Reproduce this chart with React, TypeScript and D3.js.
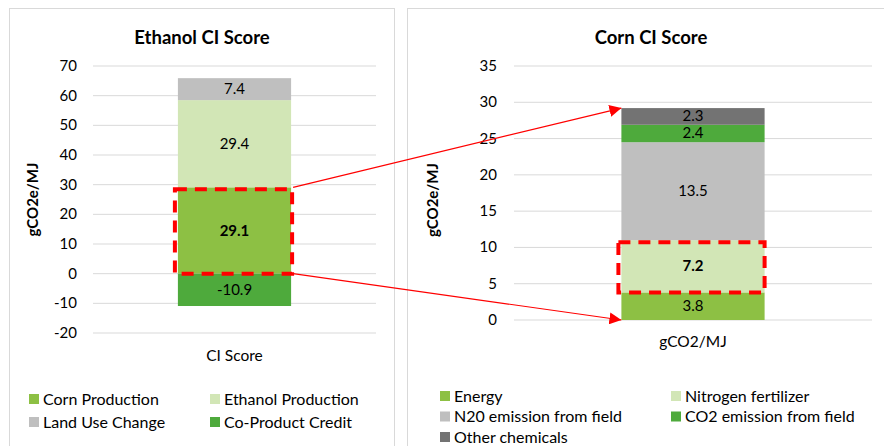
import React from "react";
import * as d3 from "d3";

const ethanolSeries = ["Corn Production", "Ethanol Production", "Land Use Change", "Co-Product Credit"];
const ethanolValues = [29.1, 29.4, 7.4, -10.9];
const ethanolColors = ["#8DC044", "#D2E6B6", "#BFBFBF", "#4EAA3C"];
const ethanolTicks = [70, 60, 50, 40, 30, 20, 10, 0, -10, -20];
const ethanolCategory = "CI Score";

const cornSeries = ["Energy", "Nitrogen fertilizer", "N20 emission from field", "CO2 emission from field", "Other chemicals"];
const cornValues = [3.8, 7.2, 13.5, 2.4, 2.3];
const cornColors = ["#8DC044", "#D2E6B6", "#BFBFBF", "#4EAA3C", "#737373"];
const cornTicks = [35, 30, 25, 20, 15, 10, 5, 0];
const cornCategory = "gCO2/MJ";

const FONT = "Lato, 'Open Sans', sans-serif";

type Seg = { name: string; v: number; y0: number; y1: number; color: string };

function stackSegs(names: string[], vals: number[], colors: string[]): Seg[] {
  let pos = 0;
  let neg = 0;
  return vals.map((v, i) => {
    let y0, y1;
    if (v >= 0) { y0 = pos; y1 = pos + v; pos = y1; }
    else { y0 = neg; y1 = neg + v; neg = y1; }
    return { name: names[i], v, y0, y1, color: colors[i] };
  });
}

export default function App() {
  // Left chart
  const yL = d3.scaleLinear().domain([-20, 70]).range([333, 66]);
  const xL = d3.scaleBand().domain([ethanolCategory]).range([93, 376]).paddingInner(0.6).paddingOuter(0.295);
  const segsL = stackSegs(ethanolSeries, ethanolValues, ethanolColors);

  // Right chart
  const yR = d3.scaleLinear().domain([0, 35]).range([320, 66]);
  const xR = d3.scaleBand().domain([cornCategory]).range([514, 872]).paddingInner(0.6).paddingOuter(0.298);
  const segsR = stackSegs(cornSeries, cornValues, cornColors);

  const bxL = xL(ethanolCategory)!;
  const bwL = xL.bandwidth();
  const bxR = xR(cornCategory)!;
  const bwR = xR.bandwidth();

  const hlL = segsL[0];
  const hlR = segsR[1];

  const leftRectTop = yL(hlL.y1);
  const leftRectBot = yL(0);
  const rightTop = yR(d3.sum(cornValues));
  const rightBot = yR(0);

  return (
    <svg width={884} height={446} style={{ position: "absolute", left: 0, top: 0, background: "#fff" }} fontFamily={FONT}>
      <defs>
        <marker id="arr" viewBox="0 0 10 10" refX="10" refY="5" markerWidth="12" markerHeight="12" markerUnits="userSpaceOnUse" orient="auto">
          <path d="M0,0 L10,5 L0,10 z" fill="#FF0000" />
        </marker>
      </defs>
      <rect x={0} y={0} width={884} height={446} fill="#fff" />
      {/* panel borders */}
      <rect x={9.5} y={8.5} width={385} height={450} fill="none" stroke="#D9D9D9" />
      <rect x={407.5} y={8.5} width={490} height={450} fill="none" stroke="#D9D9D9" />

      {/* LEFT CHART */}
      <text x={202} y={44} textAnchor="middle" fontWeight="bold" fontSize={18.5} fill="#000">Ethanol CI Score</text>
      {ethanolTicks.map((t) => (
        <g key={t}>
          <line x1={93} x2={376} y1={yL(t)} y2={yL(t)} stroke="#D9D9D9" strokeWidth={1} />
          <text x={77} y={yL(t) + 5} textAnchor="end" fontSize={15} fill="#000">{t}</text>
        </g>
      ))}
      <text transform={`translate(38,${(yL(70) + yL(-20)) / 2}) rotate(-90)`} textAnchor="middle" fontWeight="bold" fontSize={15} fill="#000">gCO2e/MJ</text>
      {segsL.map((s) => (
        <g key={s.name}>
          <rect x={bxL} width={bwL} y={yL(Math.max(s.y0, s.y1))} height={Math.abs(yL(s.y0) - yL(s.y1))} fill={s.color} />
          <text x={bxL + bwL / 2} y={(yL(s.y0) + yL(s.y1)) / 2 + 5} textAnchor="middle" fontSize={15}
            fontWeight={s === hlL ? "bold" : "normal"} fill="#000">{s.v.toFixed(1)}</text>
        </g>
      ))}
      <text x={bxL + bwL / 2} y={361} textAnchor="middle" fontSize={15.5} fill="#000">{ethanolCategory}</text>
      <rect x={bxL - 3} y={leftRectTop + 2} width={bwL + 4} height={leftRectBot - leftRectTop - 2} fill="none" stroke="#FF0000" strokeWidth={4} strokeDasharray="12 8" />
      {ethanolSeries.map((s, i) => {
        const col = i % 2;
        const row = Math.floor(i / 2);
        const x = col === 0 ? 29 : 210;
        const y = 399 + row * 23;
        return (
          <g key={s}>
            <rect x={x} y={y - 5} width={10} height={10} fill={ethanolColors[i]} />
            <text x={x + 14} y={y + 5.5} fontSize={16} fill="#000">{s}</text>
          </g>
        );
      })}

      {/* RIGHT CHART */}
      <text x={651} y={44} textAnchor="middle" fontWeight="bold" fontSize={18.5} fill="#000">Corn CI Score</text>
      {cornTicks.map((t) => (
        <g key={t}>
          <line x1={514} x2={872} y1={yR(t)} y2={yR(t)} stroke="#D9D9D9" strokeWidth={1} />
          <text x={497} y={yR(t) + 5} textAnchor="end" fontSize={15} fill="#000">{t}</text>
        </g>
      ))}
      <text transform={`translate(438,200) rotate(-90)`} textAnchor="middle" fontWeight="bold" fontSize={15} fill="#000">gCO2e/MJ</text>
      {segsR.map((s) => (
        <g key={s.name}>
          <rect x={bxR} width={bwR} y={yR(s.y1)} height={yR(s.y0) - yR(s.y1)} fill={s.color} />
          <text x={bxR + bwR / 2} y={(yR(s.y0) + yR(s.y1)) / 2 + 5} textAnchor="middle" fontSize={15}
            fontWeight={s === hlR ? "bold" : "normal"} fill="#000">{s.v.toFixed(1)}</text>
        </g>
      ))}
      <text x={bxR + bwR / 2} y={347} textAnchor="middle" fontSize={15.5} fill="#000">{cornCategory}</text>
      <rect x={bxR - 3} y={yR(hlR.y1) + 2} width={bwR + 3} height={yR(hlR.y0) - yR(hlR.y1) - 2} fill="none" stroke="#FF0000" strokeWidth={4} strokeDasharray="12 8" />
      {cornSeries.map((s, i) => {
        const col = i % 2;
        const row = Math.floor(i / 2);
        const x = col === 0 ? 440 : 671;
        const y = 396 + row * 20.5;
        return (
          <g key={s}>
            <rect x={x} y={y - 5} width={10} height={10} fill={cornColors[i]} />
            <text x={x + 14} y={y + 5.5} fontSize={16} fill="#000">{s}</text>
          </g>
        );
      })}

      {/* connector arrows */}
      <line x1={bxL + bwL + 2} y1={leftRectTop} x2={bxR} y2={rightTop} stroke="#FF0000" strokeWidth={1.2} markerEnd="url(#arr)" />
      <line x1={bxL + bwL + 2} y1={leftRectBot} x2={bxR} y2={rightBot} stroke="#FF0000" strokeWidth={1.2} markerEnd="url(#arr)" />
    </svg>
  );
}
